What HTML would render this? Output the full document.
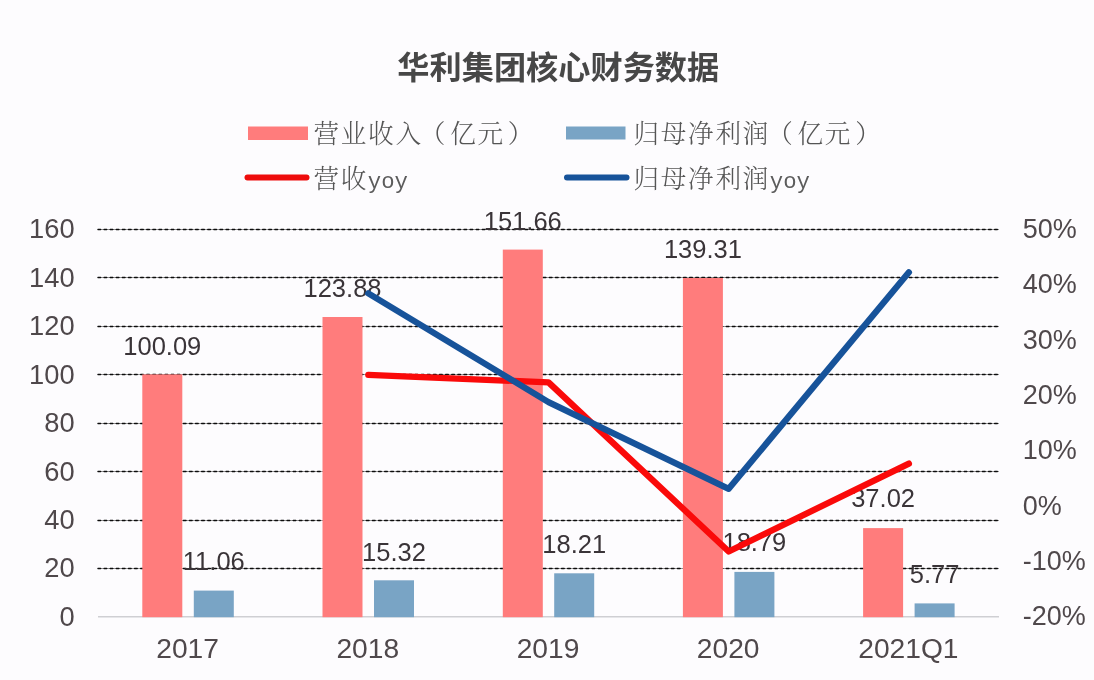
<!DOCTYPE html>
<html lang="zh-CN"><head><meta charset="utf-8"><title>华利集团核心财务数据</title>
<style>
html,body{margin:0;padding:0;background:#fdfcfe;}
body{width:1094px;height:680px;overflow:hidden;position:relative;}
svg{display:block;position:absolute;left:0;top:0;}
.ax{font-family:"Liberation Sans",sans-serif;font-size:27.3px;fill:#4f484b;}
.xl{font-family:"Liberation Sans",sans-serif;font-size:28.2px;fill:#4f484b;}
.dl{font-family:"Liberation Sans",sans-serif;font-size:25.5px;fill:#3a3438;}
.lg{font-family:"Liberation Serif","Noto Serif CJK SC",serif;font-size:25.6px;letter-spacing:1.75px;fill:#555;font-weight:300;}
.lm{font-family:"Liberation Mono",monospace;font-size:22.3px;letter-spacing:0px;fill:#5c5c5c;}
.tt{font-family:"Liberation Sans","Noto Sans CJK SC",sans-serif;font-size:32.2px;font-weight:bold;fill:#474747;}
</style></head><body>
<svg width="1094" height="680" viewBox="0 0 1094 680">
<rect x="0" y="0" width="1094" height="680" fill="#fdfcfe"/>
<text class="tt" x="558.3" y="78.8" text-anchor="middle">华利集团核心财务数据</text>
<rect x="248" y="126.5" width="60" height="13.5" fill="#ff7c7c"/>
<text class="lg" x="313.4" y="142.9">营业收入<tspan dx="-3">（</tspan><tspan dx="3">亿元</tspan><tspan dx="3">）</tspan></text>
<rect x="566" y="126.5" width="59.5" height="13" fill="#79a4c5"/>
<text class="lg" x="633.4" y="142.9">归母净利润<tspan dx="-3">（</tspan><tspan dx="3">亿元</tspan><tspan dx="3">）</tspan></text>
<line x1="247.5" y1="177.5" x2="306.5" y2="177.5" stroke="#ee0c0c" stroke-width="6" stroke-linecap="round"/>
<text class="lg" x="313.4" y="188.2">营收<tspan class="lm" dx="-0.3">yoy</tspan></text>
<line x1="567" y1="177.5" x2="626.5" y2="177.5" stroke="#17539a" stroke-width="6" stroke-linecap="round"/>
<text class="lg" x="633.4" y="188.2">归母净利润<tspan class="lm" dx="-0.3">yoy</tspan></text>
<line x1="98.0" y1="568.5" x2="999.0" y2="568.5" stroke="#222" stroke-opacity="0.6" stroke-width="0.8"/>
<line x1="98.0" y1="568.5" x2="999.0" y2="568.5" stroke="#0c0c0c" stroke-width="1.45" stroke-linecap="round" stroke-dasharray="2.6 3.5"/>
<line x1="98.0" y1="520.5" x2="999.0" y2="520.5" stroke="#222" stroke-opacity="0.6" stroke-width="0.8"/>
<line x1="98.0" y1="520.5" x2="999.0" y2="520.5" stroke="#0c0c0c" stroke-width="1.45" stroke-linecap="round" stroke-dasharray="2.6 3.5"/>
<line x1="98.0" y1="471.5" x2="999.0" y2="471.5" stroke="#222" stroke-opacity="0.6" stroke-width="0.8"/>
<line x1="98.0" y1="471.5" x2="999.0" y2="471.5" stroke="#0c0c0c" stroke-width="1.45" stroke-linecap="round" stroke-dasharray="2.6 3.5"/>
<line x1="98.0" y1="423.5" x2="999.0" y2="423.5" stroke="#222" stroke-opacity="0.6" stroke-width="0.8"/>
<line x1="98.0" y1="423.5" x2="999.0" y2="423.5" stroke="#0c0c0c" stroke-width="1.45" stroke-linecap="round" stroke-dasharray="2.6 3.5"/>
<line x1="98.0" y1="374.5" x2="999.0" y2="374.5" stroke="#222" stroke-opacity="0.6" stroke-width="0.8"/>
<line x1="98.0" y1="374.5" x2="999.0" y2="374.5" stroke="#0c0c0c" stroke-width="1.45" stroke-linecap="round" stroke-dasharray="2.6 3.5"/>
<line x1="98.0" y1="326.5" x2="999.0" y2="326.5" stroke="#222" stroke-opacity="0.6" stroke-width="0.8"/>
<line x1="98.0" y1="326.5" x2="999.0" y2="326.5" stroke="#0c0c0c" stroke-width="1.45" stroke-linecap="round" stroke-dasharray="2.6 3.5"/>
<line x1="98.0" y1="277.5" x2="999.0" y2="277.5" stroke="#222" stroke-opacity="0.6" stroke-width="0.8"/>
<line x1="98.0" y1="277.5" x2="999.0" y2="277.5" stroke="#0c0c0c" stroke-width="1.45" stroke-linecap="round" stroke-dasharray="2.6 3.5"/>
<line x1="98.0" y1="229.5" x2="999.0" y2="229.5" stroke="#222" stroke-opacity="0.6" stroke-width="0.8"/>
<line x1="98.0" y1="229.5" x2="999.0" y2="229.5" stroke="#0c0c0c" stroke-width="1.45" stroke-linecap="round" stroke-dasharray="2.6 3.5"/>
<line x1="98.0" y1="616.8" x2="999.0" y2="616.8" stroke="#cfcfd3" stroke-width="1.5"/>
<rect x="142.3" y="374.4" width="40.0" height="242.8" fill="#ff7c7c"/>
<rect x="193.8" y="590.6" width="40.0" height="26.6" fill="#79a4c5"/>
<rect x="322.5" y="317.0" width="40.0" height="300.2" fill="#ff7c7c"/>
<rect x="374.0" y="580.3" width="40.0" height="36.9" fill="#79a4c5"/>
<rect x="502.8" y="249.6" width="40.0" height="367.6" fill="#ff7c7c"/>
<rect x="554.2" y="573.3" width="40.0" height="43.9" fill="#79a4c5"/>
<rect x="682.9" y="278.0" width="40.0" height="339.2" fill="#ff7c7c"/>
<rect x="734.4" y="571.9" width="40.0" height="45.3" fill="#79a4c5"/>
<rect x="863.1" y="528.1" width="40.0" height="89.1" fill="#ff7c7c"/>
<rect x="914.6" y="603.4" width="40.0" height="13.8" fill="#79a4c5"/>
<text class="dl" x="162.3" y="354.8" text-anchor="middle">100.09</text>
<text class="dl" x="213.8" y="570.0" text-anchor="middle">11.06</text>
<text class="dl" x="342.5" y="296.8" text-anchor="middle">123.88</text>
<text class="dl" x="394.0" y="560.9" text-anchor="middle">15.32</text>
<text class="dl" x="522.8" y="230.1" text-anchor="middle">151.66</text>
<text class="dl" x="574.2" y="552.7" text-anchor="middle">18.21</text>
<text class="dl" x="702.9" y="258.2" text-anchor="middle">139.31</text>
<text class="dl" x="754.4" y="551.3" text-anchor="middle">18.79</text>
<text class="dl" x="883.1" y="507.1" text-anchor="middle">37.02</text>
<text class="dl" x="934.6" y="582.8" text-anchor="middle">5.77</text>
<polyline points="368.3,374.9 548.5,382.4 728.7,551.5 908.9,463.6" fill="none" stroke="#fa0a0a" stroke-width="6.3" stroke-linecap="round" stroke-linejoin="round"/>
<polyline points="368.3,293.4 548.5,402.1 728.7,488.8 908.9,272.3" fill="none" stroke="#17539a" stroke-width="6.3" stroke-linecap="round" stroke-linejoin="round"/>
<text class="ax" x="74.6" y="625.8" text-anchor="end">0</text>
<text class="ax" x="74.6" y="577.4" text-anchor="end">20</text>
<text class="ax" x="74.6" y="528.9" text-anchor="end">40</text>
<text class="ax" x="74.6" y="480.5" text-anchor="end">60</text>
<text class="ax" x="74.6" y="432.0" text-anchor="end">80</text>
<text class="ax" x="74.6" y="383.6" text-anchor="end">100</text>
<text class="ax" x="74.6" y="335.2" text-anchor="end">120</text>
<text class="ax" x="74.6" y="286.7" text-anchor="end">140</text>
<text class="ax" x="74.6" y="238.3" text-anchor="end">160</text>
<text class="ax" x="1022.8" y="625.3" style="font-size:27px">-20%</text>
<text class="ax" x="1022.8" y="569.9" style="font-size:27px">-10%</text>
<text class="ax" x="1022.8" y="514.6" style="font-size:27px">0%</text>
<text class="ax" x="1022.8" y="459.2" style="font-size:27px">10%</text>
<text class="ax" x="1022.8" y="403.9" style="font-size:27px">20%</text>
<text class="ax" x="1022.8" y="348.5" style="font-size:27px">30%</text>
<text class="ax" x="1022.8" y="293.2" style="font-size:27px">40%</text>
<text class="ax" x="1022.8" y="237.8" style="font-size:27px">50%</text>
<text class="xl" x="187.6" y="658.3" text-anchor="middle">2017</text>
<text class="xl" x="367.8" y="658.3" text-anchor="middle">2018</text>
<text class="xl" x="548.0" y="658.3" text-anchor="middle">2019</text>
<text class="xl" x="728.2" y="658.3" text-anchor="middle">2020</text>
<text class="xl" x="908.4" y="658.3" text-anchor="middle">2021Q1</text>
</svg>
</body></html>
